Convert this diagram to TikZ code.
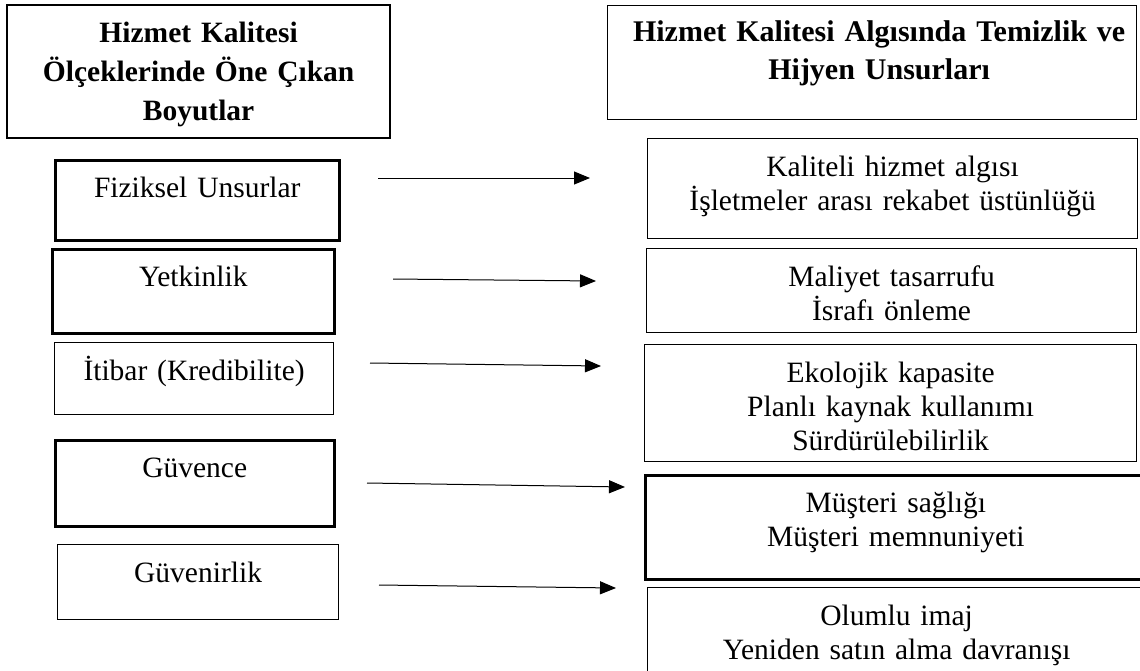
\documentclass[tikz,border=0pt]{standalone}
\usepackage{fontspec}
\setmainfont{Liberation Serif}
\usetikzlibrary{positioning,arrows.meta,calc}
\tikzset{
  kutu/.style={draw,rectangle,inner sep=0pt,anchor=north west},
  kalin/.style={line width=2.5pt},
  ince/.style={line width=1.2pt},
  yazi/.style={font=\fontsize{29.5}{34}\selectfont,align=center,anchor=base,inner sep=0pt},
  baslik/.style={font=\bfseries\fontsize{29.5}{39}\selectfont,align=center,anchor=base,inner sep=0pt},
  ok/.style={line width=1pt,-{Triangle[length=16pt,width=13pt]}}
}

\begin{document}
\begin{tikzpicture}[x=1pt,y=-1pt]
\useasboundingbox (0,0) rectangle (1140,670);
% headers
\node[kutu,line width=2.2pt,minimum width=383pt,minimum height=133pt] (solbas) at (6,4) {};
\node[baslik,text width=370pt] (solbasy) at ($(solbas.north)+(0,38)$) {Hizmet Kalitesi\\Ölçeklerinde Öne Çıkan\\Boyutlar};
\node[kutu,line width=1.3pt,minimum width=529pt,minimum height=114pt] (sagbas) at (607,5) {};
\node[baslik,font=\bfseries\fontsize{30}{38}\selectfont,text width=520pt] (sagbasy) at ($(sagbas.north)+(7,36)$) {Hizmet Kalitesi Algısında Temizlik ve\\Hijyen Unsurları};
% left column: dimensions
\node[kutu,kalin,minimum width=284pt,minimum height=80pt] (fiz) at (54,159) {};
\node[yazi,text width=270pt] (fizy) at ($(fiz.north)+(0,38.5)$) {Fiziksel Unsurlar};
\node[kutu,kalin,minimum width=282pt,minimum height=84pt] (yet) at (51,248) {};
\node[yazi,text width=270pt] (yety) at ($(yet.north)+(0,38.5)$) {Yetkinlik};
\node[kutu,ince,minimum width=279pt,minimum height=72pt] (iti) at (54,342) {};
\node[yazi,text width=270pt] (itiy) at ($(iti.north)+(0,38.5)$) {İtibar (Kredibilite)};
\node[kutu,kalin,minimum width=279pt,minimum height=86pt] (guv) at (54,439) {};
\node[yazi,text width=270pt] (guvy) at ($(guv.north)+(0,38.5)$) {Güvence};
\node[kutu,ince,minimum width=281pt,minimum height=75pt] (gvr) at (57,544) {};
\node[yazi,text width=270pt] (gvry) at ($(gvr.north)+(0,38.5)$) {Güvenirlik};
% right column: cleanliness and hygiene
\node[kutu,ince,minimum width=490pt,minimum height=100pt] (kal) at (647,138) {};
\node[yazi,text width=480pt] (kaly) at ($(kal.north)+(0,38.5)$) {Kaliteli hizmet algısı\\İşletmeler arası rekabet üstünlüğü};
\node[kutu,ince,minimum width=490pt,minimum height=84pt] (mal) at (646,248) {};
\node[yazi,text width=480pt] (maly) at ($(mal.north)+(0,38.5)$) {Maliyet tasarrufu\\İsrafı önleme};
\node[kutu,ince,minimum width=492pt,minimum height=117pt] (eko) at (644,344) {};
\node[yazi,text width=480pt] (ekoy) at ($(eko.north)+(0,38.5)$) {Ekolojik kapasite\\Planlı kaynak kullanımı\\Sürdürülebilirlik};
\node[kutu,line width=2.7pt,minimum width=501pt,minimum height=104pt] (mus) at (644,474) {};
\node[yazi,text width=480pt] (musy) at ($(mus.north)+(0,38.5)$) {Müşteri sağlığı\\Müşteri memnuniyeti};
\node[kutu,ince,minimum width=498pt,minimum height=103pt] (olu) at (647,587) {};
\node[yazi,text width=480pt] (oluy) at ($(olu.north)+(0,38.5)$) {Olumlu imaj\\Yeniden satın alma davranışı};
% arrows (free ends between the columns)
\foreach \i/\xa/\ya/\xb/\yb in {1/378/178/590/178, 2/393/279/596/281, 3/370/363/601/366, 4/367/483/625/487, 5/379/585/616/588} {
  \coordinate (o\i a) at (\xa,\ya);
  \coordinate (o\i b) at (\xb,\yb);
  \draw[ok] (o\i a) -- (o\i b);
}
\end{tikzpicture}
\end{document}
